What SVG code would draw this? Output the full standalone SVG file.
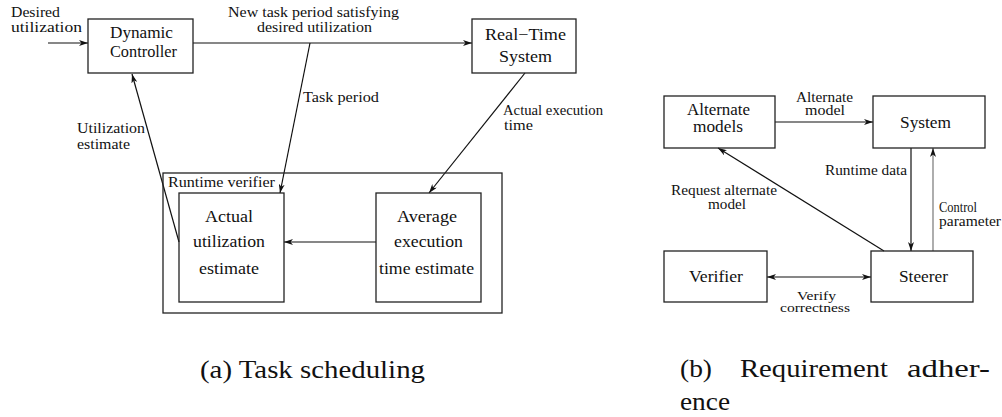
<svg xmlns="http://www.w3.org/2000/svg" width="1002" height="417" viewBox="0 0 1002 417">
<style>
.box{fill:none;stroke:#222;stroke-width:1.3}
.ln{fill:none;stroke:#111;stroke-width:1.2}
.gray{stroke:#777}
</style>
<defs>
<marker id="ah" markerUnits="userSpaceOnUse" markerWidth="10" markerHeight="6" refX="9" refY="3" orient="auto">
<path d="M0,0 L9,3 L0,6 L2.5,3 z" fill="#111"/>
</marker>
<marker id="as" markerUnits="userSpaceOnUse" markerWidth="10" markerHeight="6" refX="0" refY="3" orient="auto">
<path d="M9,0 L0,3 L9,6 L6.5,3 z" fill="#111"/>
</marker>
</defs>
<rect width="1002" height="417" fill="#fff"/>

<g id="connectors">
<line class="ln" x1="48" y1="43" x2="88" y2="43" marker-end="url(#ah)"/>
<line class="ln" x1="193" y1="43" x2="472" y2="43" marker-end="url(#ah)"/>
<line class="ln" x1="310" y1="43" x2="280" y2="193" marker-end="url(#ah)"/>
<line class="ln" x1="179" y1="242" x2="132" y2="74" marker-end="url(#ah)"/>
<line class="ln" x1="525" y1="73" x2="429" y2="193" marker-end="url(#ah)"/>
<line class="ln" x1="376" y1="242" x2="284" y2="242" marker-end="url(#ah)"/>
<line class="ln" x1="775" y1="122" x2="873" y2="122" marker-end="url(#ah)"/>
<line class="ln" x1="911" y1="148" x2="911" y2="251" marker-end="url(#ah)"/>
<line class="ln gray" x1="933" y1="251" x2="933" y2="148" marker-end="url(#ah)"/>
<line class="ln" x1="884" y1="251" x2="718" y2="148" marker-end="url(#ah)"/>
<line class="ln" x1="767" y1="277" x2="871" y2="277" marker-start="url(#as)" marker-end="url(#ah)"/>
</g>

<g id="labels" fill="#111">
<text font-family="Liberation Serif" font-size="14" x="11" y="17" textLength="49" lengthAdjust="spacingAndGlyphs">Desired</text>
<text font-family="Liberation Serif" font-size="14" x="11" y="32" textLength="71" lengthAdjust="spacingAndGlyphs">utilization</text>
<text font-family="Liberation Serif" font-size="14" x="228" y="17" textLength="171" lengthAdjust="spacingAndGlyphs">New task period satisfying</text>
<text font-family="Liberation Serif" font-size="14" x="257" y="32" textLength="115" lengthAdjust="spacingAndGlyphs">desired utilization</text>
<text font-family="Liberation Serif" font-size="14" x="303" y="102" textLength="76" lengthAdjust="spacingAndGlyphs">Task period</text>
<text font-family="Liberation Serif" font-size="14" x="77" y="133" textLength="68" lengthAdjust="spacingAndGlyphs">Utilization</text>
<text font-family="Liberation Serif" font-size="14" x="77" y="149" textLength="53" lengthAdjust="spacingAndGlyphs">estimate</text>
<text font-family="Liberation Serif" font-size="14" x="503" y="115" textLength="100" lengthAdjust="spacingAndGlyphs">Actual execution</text>
<text font-family="Liberation Serif" font-size="14" x="504" y="130" textLength="29" lengthAdjust="spacingAndGlyphs">time</text>
<text font-family="Liberation Serif" font-size="14" x="796" y="102" textLength="57" lengthAdjust="spacingAndGlyphs">Alternate</text>
<text font-family="Liberation Serif" font-size="14" x="805" y="115" textLength="40" lengthAdjust="spacingAndGlyphs">model</text>
<text font-family="Liberation Serif" font-size="14" x="825" y="175" textLength="82" lengthAdjust="spacingAndGlyphs">Runtime data</text>
<text font-family="Liberation Serif" font-size="14" x="671" y="195" textLength="106" lengthAdjust="spacingAndGlyphs">Request alternate</text>
<text font-family="Liberation Serif" font-size="14" x="708" y="209" textLength="38" lengthAdjust="spacingAndGlyphs">model</text>
<text font-family="Liberation Serif" font-size="14" x="939" y="212" textLength="38" lengthAdjust="spacingAndGlyphs">Control</text>
<text font-family="Liberation Serif" font-size="14" x="939" y="226" textLength="62" lengthAdjust="spacingAndGlyphs">parameter</text>
<text font-family="Liberation Serif" font-size="12" x="797" y="300" textLength="39" lengthAdjust="spacingAndGlyphs">Verify</text>
<text font-family="Liberation Serif" font-size="12" x="780" y="312" textLength="70" lengthAdjust="spacingAndGlyphs">correctness</text>
</g>

<g id="runtime-verifier" fill="#111">
<rect class="box" x="163" y="173" width="339" height="140"/>
<text font-family="Liberation Serif" font-size="14" x="168" y="187" textLength="107" lengthAdjust="spacingAndGlyphs">Runtime verifier</text>
</g>

<g id="dynamic-controller" fill="#111">
<rect class="box" x="88" y="19" width="105" height="54"/>
<text font-family="Liberation Serif" font-size="16" x="110" y="38" textLength="63" lengthAdjust="spacingAndGlyphs">Dynamic</text>
<text font-family="Liberation Serif" font-size="16" x="110" y="57" textLength="67" lengthAdjust="spacingAndGlyphs">Controller</text>
</g>

<g id="real-time-system" fill="#111">
<rect class="box" x="472" y="19" width="104" height="54"/>
<text font-family="Liberation Serif" font-size="16" x="485" y="40" textLength="81" lengthAdjust="spacingAndGlyphs">Real−Time</text>
<text font-family="Liberation Serif" font-size="16" x="499" y="62" textLength="53" lengthAdjust="spacingAndGlyphs">System</text>
</g>

<g id="actual-utilization" fill="#111">
<rect class="box" x="179" y="193" width="105" height="109"/>
<text font-family="Liberation Serif" font-size="16" x="205" y="222" textLength="48" lengthAdjust="spacingAndGlyphs">Actual</text>
<text font-family="Liberation Serif" font-size="16" x="193" y="247" textLength="72" lengthAdjust="spacingAndGlyphs">utilization</text>
<text font-family="Liberation Serif" font-size="16" x="199" y="274" textLength="60" lengthAdjust="spacingAndGlyphs">estimate</text>
</g>

<g id="average-execution" fill="#111">
<rect class="box" x="376" y="193" width="105" height="109"/>
<text font-family="Liberation Serif" font-size="16" x="397" y="222" textLength="60" lengthAdjust="spacingAndGlyphs">Average</text>
<text font-family="Liberation Serif" font-size="16" x="394" y="247" textLength="69" lengthAdjust="spacingAndGlyphs">execution</text>
<text font-family="Liberation Serif" font-size="16" x="379" y="274" textLength="95" lengthAdjust="spacingAndGlyphs">time estimate</text>
</g>

<g id="alternate-models" fill="#111">
<rect class="box" x="664" y="96" width="111" height="52"/>
<text font-family="Liberation Serif" font-size="16" x="687" y="115" textLength="63" lengthAdjust="spacingAndGlyphs">Alternate</text>
<text font-family="Liberation Serif" font-size="16" x="693" y="132" textLength="50" lengthAdjust="spacingAndGlyphs">models</text>
</g>

<g id="system" fill="#111">
<rect class="box" x="873" y="96" width="112" height="52"/>
<text font-family="Liberation Serif" font-size="16" x="900" y="128" textLength="51" lengthAdjust="spacingAndGlyphs">System</text>
</g>

<g id="verifier" fill="#111">
<rect class="box" x="664" y="251" width="103" height="51"/>
<text font-family="Liberation Serif" font-size="16" x="689" y="282" textLength="54" lengthAdjust="spacingAndGlyphs">Verifier</text>
</g>

<g id="steerer" fill="#111">
<rect class="box" x="871" y="251" width="102" height="51"/>
<text font-family="Liberation Serif" font-size="16" x="899" y="282" textLength="49" lengthAdjust="spacingAndGlyphs">Steerer</text>
</g>

<g id="captions" fill="#111">
<text font-family="Liberation Serif" font-size="25" x="200" y="378" textLength="225" lengthAdjust="spacingAndGlyphs">(a) Task scheduling</text>
<text font-family="Liberation Serif" font-size="25" x="680" y="377" textLength="32" lengthAdjust="spacingAndGlyphs">(b)</text>
<text font-family="Liberation Serif" font-size="25" x="740" y="377" textLength="148" lengthAdjust="spacingAndGlyphs">Requirement</text>
<text font-family="Liberation Serif" font-size="25" x="907" y="377" textLength="83" lengthAdjust="spacingAndGlyphs">adher-</text>
<text font-family="Liberation Serif" font-size="25" x="680" y="410" textLength="50" lengthAdjust="spacingAndGlyphs">ence</text>
</g>
</svg>
